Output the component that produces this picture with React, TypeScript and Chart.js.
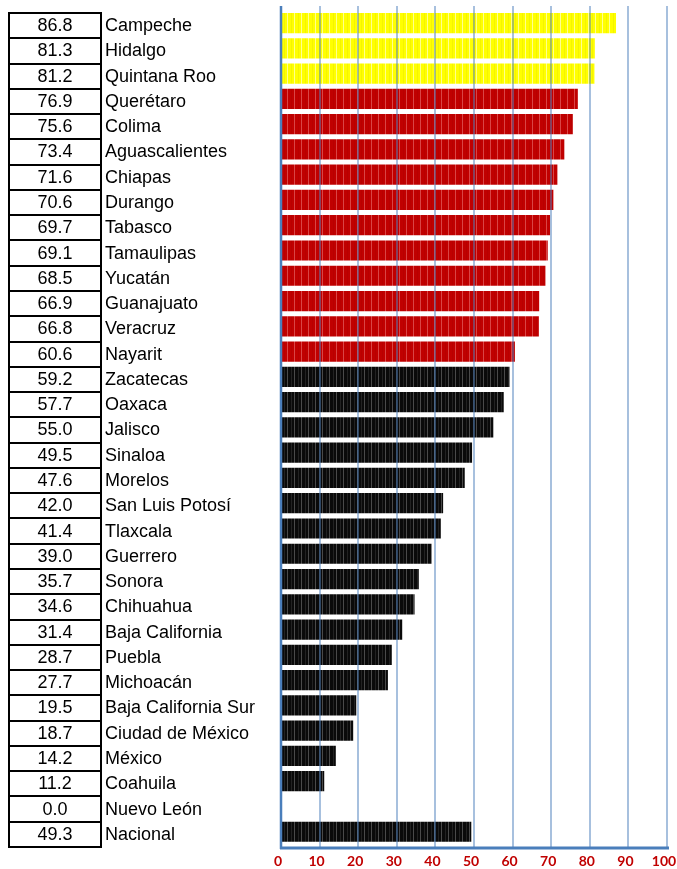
import React, { useEffect, useRef } from "react";
import { Chart, registerables } from "chart.js";

Chart.register(...registerables);

const states = [
  "Campeche", "Hidalgo", "Quintana Roo", "Querétaro", "Colima", "Aguascalientes",
  "Chiapas", "Durango", "Tabasco", "Tamaulipas", "Yucatán", "Guanajuato", "Veracruz",
  "Nayarit", "Zacatecas", "Oaxaca", "Jalisco", "Sinaloa", "Morelos", "San Luis Potosí",
  "Tlaxcala", "Guerrero", "Sonora", "Chihuahua", "Baja California", "Puebla",
  "Michoacán", "Baja California Sur", "Ciudad de México", "México", "Coahuila",
  "Nuevo León", "Nacional",
];

const values = [
  86.8, 81.3, 81.2, 76.9, 75.6, 73.4, 71.6, 70.6, 69.7, 69.1, 68.5, 66.9, 66.8,
  60.6, 59.2, 57.7, 55.0, 49.5, 47.6, 42.0, 41.4, 39.0, 35.7, 34.6, 31.4, 28.7,
  27.7, 19.5, 18.7, 14.2, 11.2, 0.0, 49.3,
];

// colour group per bar: y = yellow, r = red, k = black
const groups = [
  "y", "y", "y",
  "r", "r", "r", "r", "r", "r", "r", "r", "r", "r", "r",
  "k", "k", "k", "k", "k", "k", "k", "k", "k", "k", "k", "k", "k", "k", "k", "k", "k", "k", "k",
];

const xTickValues = [0, 10, 20, 30, 40, 50, 60, 70, 80, 90, 100];

const W = 677;
const H = 869;
const AREA_TOP = 10.4;
const AREA_BOTTOM = 844.4;
const ROW_H = (AREA_BOTTOM - AREA_TOP) / states.length;
const TABLE_TOP = 12;

export default function App() {
  const ref = useRef<HTMLCanvasElement>(null);

  useEffect(() => {
    const canvas = ref.current;
    if (!canvas) return;

    const mkPattern = (base: string, stripe: string, stripe2: string) => {
      const c = document.createElement("canvas");
      c.width = 7;
      c.height = 4;
      const g = c.getContext("2d")!;
      g.fillStyle = base;
      g.fillRect(0, 0, 7, 4);
      g.fillStyle = stripe;
      g.fillRect(0, 0, 1, 4);
      g.fillStyle = stripe2;
      g.fillRect(4, 0, 1, 4);
      return g.createPattern(c, "repeat")!;
    };
    const patterns: Record<string, CanvasPattern> = {
      y: mkPattern("#ffff00", "#ffff90", "#f4f400"),
      r: mkPattern("#c00000", "#d94545", "#b80000"),
      k: mkPattern("#0a0a0a", "#4a4a4a", "#222222"),
    };

    const overlay = {
      id: "overlay",
      afterDatasetsDraw(chart: any) {
        const ctx = chart.ctx;
        const xs = chart.scales.x;
        const yTop = 6;
        const yBot = 848;
        ctx.save();
        ctx.lineWidth = 2;
        ctx.strokeStyle = "rgba(79,129,189,0.5)";
        xTickValues.forEach((v) => {
          if (v === 0) return;
          const px = Math.round(xs.getPixelForValue(v));
          ctx.beginPath();
          ctx.moveTo(px, yTop);
          ctx.lineTo(px, yBot);
          ctx.stroke();
        });
        const x0 = xs.getPixelForValue(0);
        const x1 = xs.getPixelForValue(100);
        ctx.strokeStyle = "#4a7ebb";
        ctx.lineWidth = 2.5;
        ctx.beginPath();
        ctx.moveTo(x0, yTop);
        ctx.lineTo(x0, yBot + 1);
        ctx.stroke();
        ctx.lineWidth = 3;
        ctx.beginPath();
        ctx.moveTo(x0 - 1, yBot);
        ctx.lineTo(x1 + 2, yBot);
        ctx.stroke();
        ctx.restore();
      },
    };

    const chart = new Chart(canvas, {
      type: "bar",
      data: {
        labels: states,
        datasets: [
          {
            data: values,
            backgroundColor: groups.map((g) => patterns[g]),
            borderWidth: 0,
            barPercentage: 0.8,
            categoryPercentage: 1,
          },
        ],
      },
      options: {
        indexAxis: "y",
        responsive: false,
        maintainAspectRatio: false,
        animation: false,
        layout: { padding: { left: 281, right: 10, top: AREA_TOP, bottom: 0 } },
        plugins: { legend: { display: false }, tooltip: { enabled: false } },
        scales: {
          y: { display: false, offset: true },
          x: {
            min: 0,
            max: 100,
            afterBuildTicks: (s: any) => {
              s.ticks = xTickValues.map((v) => ({ value: v }));
            },
            afterFit: (s: any) => {
              s.height = H - AREA_BOTTOM;
              s.paddingRight = 0;
              s.paddingLeft = 0;
            },
            grid: { display: false, drawTicks: false },
            border: { display: false },
            ticks: {
              color: "#c00000",
              padding: 9,
              labelOffset: -3,
              font: { family: "Lato", weight: "bold", size: 14 },
            },
          },
        },
      },
      plugins: [overlay],
    });
    return () => chart.destroy();
  }, []);

  const font = "'Liberation Sans', Arial, sans-serif";

  return (
    <div style={{ position: "absolute", left: 0, top: 0, width: W, height: H, background: "#fff", overflow: "hidden" }}>
      <canvas ref={ref} width={W} height={H} style={{ position: "absolute", left: 0, top: 0, width: W, height: H }} />
      {states.map((s, i) => (
        <React.Fragment key={s}>
          <div
            style={{
              position: "absolute",
              left: 8,
              top: TABLE_TOP + i * ROW_H,
              width: 94,
              height: ROW_H + 2,
              border: "2px solid #000",
              boxSizing: "border-box",
              display: "flex",
              alignItems: "center",
              justifyContent: "center",
              fontFamily: font,
              fontSize: 18,
              color: "#000",
            }}
          >
            {values[i].toFixed(1)}
          </div>
          <div
            style={{
              position: "absolute",
              left: 105,
              top: TABLE_TOP + i * ROW_H + 1,
              height: ROW_H,
              display: "flex",
              alignItems: "center",
              fontFamily: font,
              fontSize: 18,
              color: "#000",
              whiteSpace: "nowrap",
            }}
          >
            {s}
          </div>
        </React.Fragment>
      ))}
    </div>
  );
}
